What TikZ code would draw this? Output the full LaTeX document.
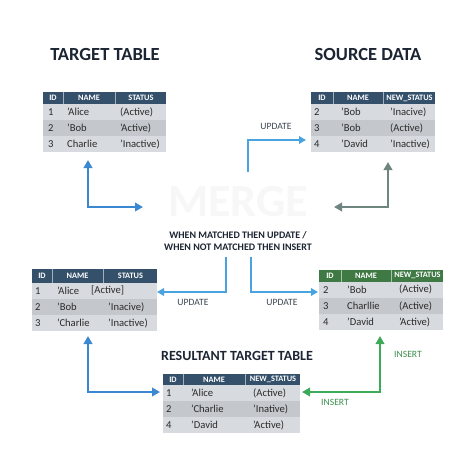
\documentclass[tikz,border=0pt]{standalone}
\usepackage{fontspec}
\setmainfont{Carlito}
\usetikzlibrary{arrows.meta}
\definecolor{hdrblue}{HTML}{34506B}
\definecolor{hdrgreen}{HTML}{3F7A45}
\definecolor{rowlight}{HTML}{D7DADE}
\definecolor{rowdark}{HTML}{C4C8CD}
\definecolor{txt}{HTML}{2B2B2B}
\definecolor{navy}{HTML}{1C2533}
\definecolor{arrblue}{HTML}{3A88D2}
\definecolor{updblue}{HTML}{48A3DF}
\definecolor{arrgray}{HTML}{6E8580}
\definecolor{arrgreen}{HTML}{3DAA5A}
\definecolor{insgreen}{HTML}{3C8F4E}
\newcommand\tabsetup[7]{\def\tX{#1}\def\tY{#2}\def\cA{#3}\def\cB{#4}\def\cC{#5}\def\hH{#6}\def\rH{#7}}
\newcommand\taboffs[3]{\def\oA{#1}\def\oB{#2}\def\oC{#3}}
\newcommand\tabhead[5]{%
  \pgfmathsetmacro\tW{\cA+\cB+\cC}
  \fill[#2] (\tX,\tY) rectangle ++(\tW,\hH);
  \draw[white!55!#2, line width=0.6pt] ({\tX+\cA},\tY) -- ++(0,\hH) ({\tX+\cA+\cB},\tY) -- ++(0,\hH);
  \node[hdr] (#1-h1) at ({\tX+\cA/2},{\tY+\hH/2}) {#3};
  \node[hdr] (#1-h2) at ({\tX+\cA+\cB/2},{\tY+\hH/2}) {#4};
  \node[hdr] (#1-h3) at ({\tX+\cA+\cB+\cC/2+0.5},{\tY+\hH/2}) {#5};
}
\newcommand\tabrow[7][\oC]{%
  \pgfmathsetmacro\rY{\tY+\hH+(#3-1)*\rH}
  \fill[#4] (\tX,\rY) rectangle ++(\tW,\rH);
  \node[cell] (#2-r#3a) at ({\tX+\oA},{\rY+\rH/2}) {#5};
  \node[cell] (#2-r#3b) at ({\tX+\cA+\oB},{\rY+\rH/2}) {#6};
  \node[cell] (#2-r#3c) at ({\tX+\cA+\cB+#1},{\rY+\rH/2}) {#7};
}
\tikzset{
  hdr/.style={text=white, font=\fontsize{8.3}{9}\selectfont\bfseries, inner sep=0pt},
  cell/.style={text=txt, anchor=west, font=\fontsize{10.6}{11}\selectfont, inner sep=0pt},
  title/.style={text=navy, font=\fontsize{18.5}{20}\selectfont\bfseries, inner sep=0pt},
  lbl/.style={text=navy!85, font=\fontsize{9.6}{10}\selectfont, inner sep=0pt},
  dbl/.style={line width=2.4pt, {Triangle[length=8pt,width=8.5pt]}-{Triangle[length=8pt,width=8.5pt]}},
  sgl/.style={line width=2pt, -{Triangle[length=7pt,width=7.5pt]}},
}
\begin{document}
\begin{tikzpicture}[x=1pt,y=-1pt]
\useasboundingbox[fill=white] (0,0) rectangle (474,474);
% watermark
\node[text=black!3, font=\fontsize{46}{48}\selectfont\bfseries, inner sep=0pt] (wm) at (238,202) {MERGE};
% titles
\node[title] (tt) at (105,54) {TARGET TABLE};
\node[title] (st) at (368,54) {SOURCE DATA};
\node[title, font=\fontsize{14}{15}\selectfont\bfseries] (rt) at (237,356) {RESULTANT TARGET TABLE};
% target table
\tabsetup{43}{92}{20}{52}{51}{12}{16}\taboffs{5}{4}{5}
\tabhead{t}{hdrblue}{ID}{NAME}{STATUS}
\tabrow{t}{1}{rowlight}{1}{'Alice}{(Active)}
\tabrow{t}{2}{rowdark}{2}{'Bob}{'Active)}
\tabrow{t}{3}{rowlight}{3}{Charlie}{'Inactive)}
% source table
\tabsetup{311}{92}{22}{50}{52}{12}{16}\taboffs{3}{8}{7}
\tabhead{s}{hdrblue}{ID}{NAME}{NEW\_STATUS}
\tabrow{s}{1}{rowlight}{2}{'Bob}{'Inacive)}
\tabrow{s}{2}{rowdark}{3}{'Bob}{(Active)}
\tabrow{s}{3}{rowlight}{4}{'David}{'Inactive)}
% left middle table
\tabsetup{32}{269}{20}{51}{54}{13.5}{16.3}\taboffs{3}{5}{5}
\tabhead{l}{hdrblue}{ID}{NAME}{STATUS}
\tabrow[-12]{l}{1}{rowlight}{1}{'Alice}{[Active]}
\tabrow{l}{2}{rowdark}{2}{'Bob}{'Inacive)}
\tabrow{l}{3}{rowlight}{3}{'Charlie}{'Inactive)}
% right middle table
\tabsetup{319}{270}{22}{50}{52}{11.5}{16.3}\taboffs{4}{6}{8}
\tabhead{r}{hdrgreen}{ID}{NAME}{NEW\_STATUS}
\tabrow{r}{1}{rowlight}{2}{'Bob}{(Active)}
\tabrow{r}{2}{rowdark}{3}{Charllie}{(Active)}
\tabrow{r}{3}{rowlight}{4}{'David}{'Active)}
% bottom table
\tabsetup{163}{374}{20}{62}{55}{11}{16}\taboffs{3}{8}{8}
\tabhead{b}{hdrblue}{ID}{NAME}{NEW\_STATUS}
\tabrow{b}{1}{rowlight}{1}{'Alice}{(Active)}
\tabrow{b}{2}{rowdark}{2}{'Charlie}{'Inative)}
\tabrow{b}{3}{rowlight}{4}{'David}{'Active)}
% middle text
\node[text=navy, font=\fontsize{10}{11.5}\selectfont\bfseries, align=center, inner sep=0pt] (cond) at (238,241)
  {WHEN MATCHED THEN UPDATE /\\WHEN NOT MATCHED THEN INSERT};
% arrows
\coordinate (ta-up) at (88,160); \coordinate (ta-rt) at (143,207);
\draw[arrblue, dbl] (ta-up) |- (ta-rt);
\coordinate (su-s) at (248,172); \coordinate (su-e) at (306,140);
\draw[updblue, sgl] (su-s) |- (su-e);
\node[lbl] (upd1) at (276,126) {UPDATE};
\coordinate (sd-up) at (388,162); \coordinate (sd-lt) at (334,207);
\draw[arrgray, dbl] (sd-up) |- (sd-lt);
\coordinate (ml-s) at (226,257); \coordinate (ml-e) at (157,292);
\draw[updblue, sgl] (ml-s) |- (ml-e);
\coordinate (mr-s) at (251,257); \coordinate (mr-e) at (318,292);
\draw[updblue, sgl] (mr-s) |- (mr-e);
\node[lbl] (upd2) at (193,302) {UPDATE};
\node[lbl] (upd3) at (282,302) {UPDATE};
\coordinate (bl-up) at (88,336); \coordinate (bl-rt) at (160,392);
\draw[arrblue, dbl] (bl-up) |- (bl-rt);
\coordinate (gr-up) at (380,336); \coordinate (gr-lt) at (302,392);
\draw[arrgreen, dbl] (gr-up) |- (gr-lt);
\node[lbl, text=insgreen] (ins1) at (408,354) {INSERT};
\node[lbl, text=insgreen] (ins2) at (335,402) {INSERT};
\end{tikzpicture}
\end{document}
